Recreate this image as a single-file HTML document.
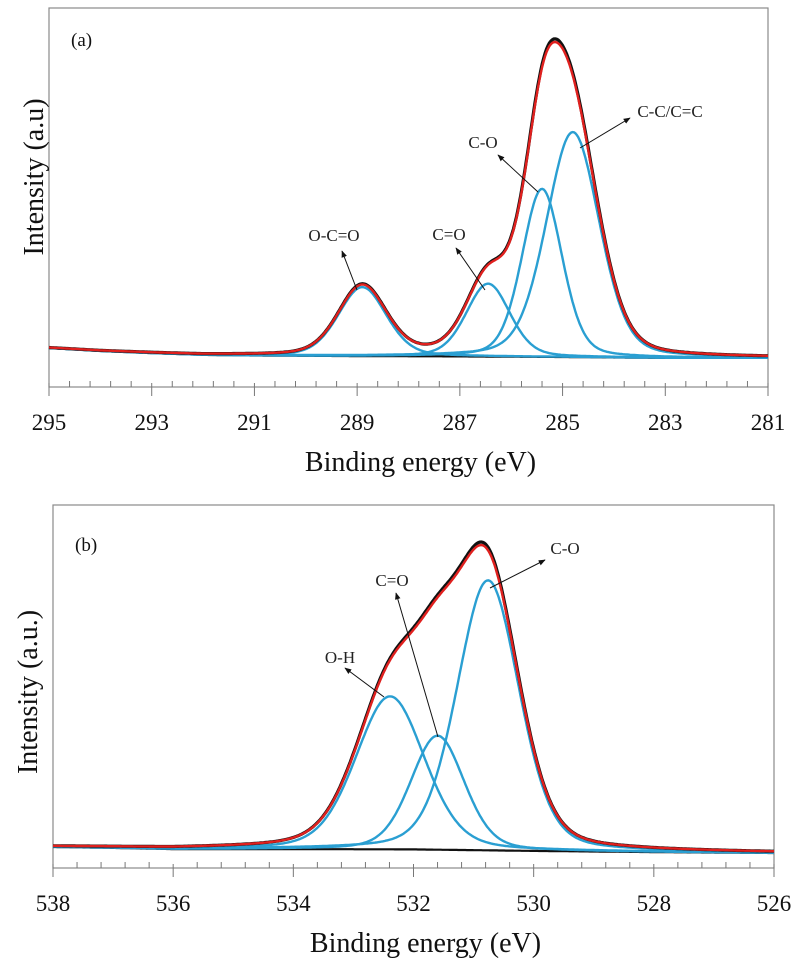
<!DOCTYPE html>
<html><head><meta charset="utf-8"><style>
html,body{margin:0;padding:0;background:#fff;}
svg{display:block;font-family:"Liberation Serif",serif;}
</style></head><body>
<svg id="chart" width="800" height="969" viewBox="0 0 800 969" xmlns="http://www.w3.org/2000/svg">
<defs><marker id="ah" viewBox="0 0 10 10" refX="9" refY="5" markerWidth="7" markerHeight="7" orient="auto"><path d="M0,1 L10,5 L0,9 z" fill="#111"/></marker></defs>
<g id="pa"></g>
<g id="pb"></g>
</svg>
<script>
// Panel (a) C1s data
const ticksA = [295, 293, 291, 289, 287, 285, 283, 281];
const baseBEA = [295, 294, 293, 292, 291, 289, 287, 285, 283, 281];
const baseValA = [13, 12, 11.3, 10.7, 10.5, 10.3, 10.2, 10, 9.7, 9.7];
const peakNamesA = ["O-C=O", "C=O", "C-O", "C-C/C=C"];
const peakCentersA = [288.9, 286.45, 285.4, 284.8];
const peakHeightsA = [23, 24.3, 56, 75];
const peakWidthsA = [1.1, 1.0, 0.92, 1.22];
// Panel (b) O1s data
const ticksB = [538, 536, 534, 532, 530, 528, 526];
const baseBEB = [538, 537, 536, 534, 532, 530, 528, 526];
const baseValB = [7, 6.7, 6.3, 6.3, 6.2, 5.7, 5.3, 5];
const peakNamesB = ["O-H", "C=O", "C-O"];
const peakCentersB = [532.39, 531.6, 530.76];
const peakHeightsB = [51, 38, 90];
const peakWidthsB = [1.35, 1.05, 1.22];

const NS = "http://www.w3.org/2000/svg";
const ETA = 0.25;
function mk(tag, attrs, parent){const e=document.createElementNS(NS,tag);for(const k in attrs)e.setAttribute(k,attrs[k]);parent.appendChild(e);return e;}
function interp(xs, ys, x){
  if(x>=xs[0])return ys[0]; if(x<=xs[xs.length-1])return ys[ys.length-1];
  for(let i=0;i<xs.length-1;i++){if(x<=xs[i]&&x>=xs[i+1]){const t=(xs[i]-x)/(xs[i]-xs[i+1]);return ys[i]+t*(ys[i+1]-ys[i]);}}
  return ys[0];
}
function pv(x,c,h,w){const d=(x-c)*(x-c)/(w*w);return h*((1-ETA)*Math.exp(-4*Math.LN2*d)+ETA/(1+4*d));}

function panel(g, cfg){
  const {left,right,top,bottom,beMax,beMin,ticks,baseBE,baseVal,cen,hei,wid,names,labels,pyScale,tag,ytitle,ytx,yty,lblY,titleY} = cfg;
  const xS = be => left + (beMax-be)/(beMax-beMin)*(right-left);
  const yS = v => bottom - v*pyScale;
  const fr = mk("rect",{x:left,y:top,width:right-left,height:bottom-top,fill:"none",stroke:"#8a8a8a","stroke-width":1.2},g);
  
  
  for(let be=beMax; be>=beMin-1e-6; be-=0.4){
    const isMajor = Math.abs((beMax-be)/2 - Math.round((beMax-be)/2))<1e-6;
    const x = xS(be);
    const t = mk("line",{x1:x,x2:x,y1:isMajor?bottom-4:bottom-6,y2:isMajor?bottom+9:bottom,stroke:"#777","stroke-width":1},g);
    
    
  }
  ticks.forEach(v=>{
    const t = mk("text",{x:xS(v),y:lblY,"text-anchor":"middle","font-size":23,fill:"#111"},g);
    t.textContent = v;
    
    
  });
  const xt = mk("text",{x:(left+right)/2+12,y:titleY,"text-anchor":"middle","font-size":28,fill:"#111"},g);
  xt.textContent = "Binding energy (eV)";
  
  
  const yt = mk("text",{x:ytx,y:yty,"text-anchor":"middle","font-size":28,fill:"#111",transform:`rotate(-90 ${ytx} ${yty})`},g);
  yt.textContent = ytitle;
  
  
  const tg = mk("text",{x:left+22,y:tag[1],"font-size":19,fill:"#111"},g);
  tg.textContent = tag[0];
  
  
  const N=500, pts=[];
  for(let i=0;i<=N;i++)pts.push(beMax-(beMax-beMin)*i/N);
  const path = f => pts.map((be,i)=>(i?"L":"M")+xS(be).toFixed(1)+","+yS(f(be)).toFixed(1)).join(" ");
  const base = be=>interp(baseBE,baseVal,be);
  const env = be=>{let s=base(be);for(let k=0;k<cen.length;k++)s+=pv(be,cen[k],hei[k],wid[k]);return s;};
  const bl = mk("path",{d:path(base),fill:"none",stroke:"#111","stroke-width":2.2},g);
  
  
  for(let k=0;k<cen.length;k++){
    const c = mk("path",{d:path(be=>base(be)+pv(be,cen[k],hei[k],wid[k])),fill:"none",stroke:"#2a9fd2","stroke-width":2.4},g);
    
    
  }
  const raw = mk("path",{d:path(be=>base(be)+(env(be)-base(be))*1.01),fill:"none",stroke:"#111","stroke-width":3.2},g);
  
  
  const fit = mk("path",{d:path(env),fill:"none",stroke:"#e0201e","stroke-width":2.4},g);
  
  
  labels.forEach(L=>{
    const a = mk("line",{x1:L.ax1,y1:L.ay1,x2:L.ax2,y2:L.ay2,stroke:"#111","stroke-width":1,"marker-end":"url(#ah)"},g);
    
    
    const t = mk("text",{x:L.x,y:L.y,"text-anchor":"middle","font-size":17,fill:"#222"},g);
    t.textContent = L.t;
    
    
  });
}

panel(document.getElementById("pa"),{
  left:49,right:768,top:8,bottom:387,beMax:295,beMin:281,ticks:ticksA,
  baseBE:baseBEA,baseVal:baseValA,cen:peakCentersA,hei:peakHeightsA,wid:peakWidthsA,names:peakNamesA,
  pyScale:3,tag:["(a)",46],ytitle:"Intensity (a.u)",ytx:43,yty:177,lblY:430,titleY:471,
  labels:[
    {t:"O-C=O",x:334,y:241,ax1:357,ay1:290,ax2:342,ay2:251},
    {t:"C=O",x:449,y:240,ax1:485,ay1:290,ax2:456,ay2:248},
    {t:"C-O",x:483,y:148,ax1:538,ay1:192,ax2:498,ay2:155},
    {t:"C-C/C=C",x:670,y:117,ax1:580,ay1:148,ax2:630,ay2:118}
  ]
});
panel(document.getElementById("pb"),{
  left:53,right:774,top:505,bottom:868,beMax:538,beMin:526,ticks:ticksB,
  baseBE:baseBEB,baseVal:baseValB,cen:peakCentersB,hei:peakHeightsB,wid:peakWidthsB,names:peakNamesB,
  pyScale:3,tag:["(b)",551],ytitle:"Intensity (a.u.)",ytx:37,yty:692,lblY:911,titleY:952,
  labels:[
    {t:"O-H",x:340,y:663,ax1:384,ay1:697,ax2:345,ay2:668},
    {t:"C=O",x:392,y:586,ax1:438,ay1:737,ax2:396,ay2:593},
    {t:"C-O",x:565,y:554,ax1:490,ay1:588,ax2:545,ay2:560}
  ]
});
</script>
</body></html>
